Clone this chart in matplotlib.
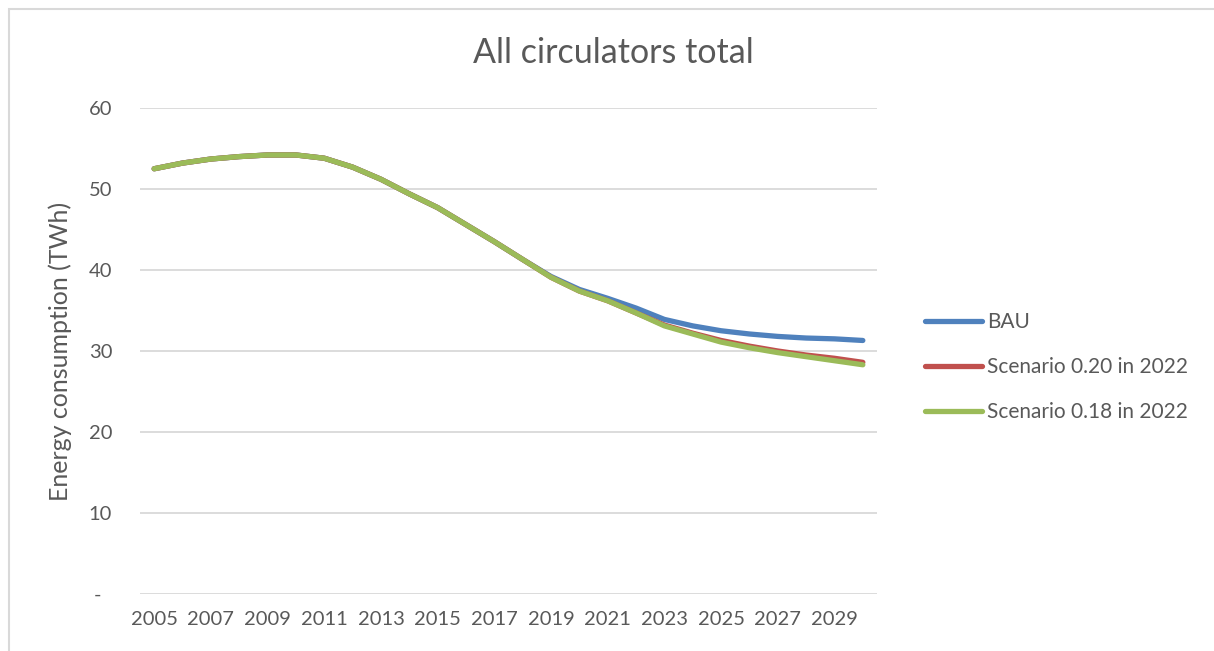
import matplotlib
matplotlib.use("Agg")
import matplotlib.pyplot as plt
from matplotlib.patches import Rectangle
import numpy as np

# data (TWh)
years = list(range(2005, 2031))
bau = [52.5, 53.2, 53.7, 54.0, 54.2, 54.2, 53.8, 52.7, 51.2, 49.4, 47.7, 45.6, 43.5,
       41.3, 39.2, 37.6, 36.5, 35.3, 33.9, 33.1, 32.5, 32.1, 31.8, 31.6, 31.5, 31.3]
scen_020 = [52.5, 53.2, 53.7, 54.0, 54.2, 54.2, 53.8, 52.7, 51.2, 49.4, 47.7, 45.6, 43.5,
            41.3, 39.1, 37.4, 36.2, 34.7, 33.2, 32.2, 31.3, 30.6, 30.0, 29.5, 29.1, 28.6]
scen_018 = [52.5, 53.2, 53.7, 54.0, 54.2, 54.2, 53.8, 52.7, 51.2, 49.4, 47.7, 45.6, 43.5,
            41.3, 39.1, 37.4, 36.2, 34.7, 33.1, 32.1, 31.1, 30.4, 29.8, 29.3, 28.8, 28.3]
series_names = ["BAU", "Scenario 0.20 in 2022", "Scenario 0.18 in 2022"]
series_colors = ["#4f81bd", "#c0504d", "#9bbb59"]

yticks = [0, 10, 20, 30, 40, 50, 60]
ytick_labels = ["-  ", "10", "20", "30", "40", "50", "60"]

plt.rcParams['font.family'] = ['Lato', 'DejaVu Sans']
txt = "#595959"

fig = plt.figure(figsize=(12.14, 6.51), dpi=100)
W, H = 1214, 651
# chart border (cropped at the right and bottom)
fig.patches.append(Rectangle((9 / W, -0.1), 1.2, 1.1 - 9 / H, transform=fig.transFigure,
                             fill=False, edgecolor="#d9d9d9", linewidth=1.5))

ax = fig.add_axes([140 / W, 1 - 594 / H, (877 - 140) / W, (594 - 108) / H])
x = np.arange(len(years))
for vals, name, col in zip([bau, scen_020, scen_018], series_names, series_colors):
    ax.plot(x, vals, color=col, linewidth=3.8, label=name,
            solid_capstyle="round", solid_joinstyle="round")

ax.set_xlim(-0.5, len(years) - 0.5)
ax.set_ylim(0, 60)
ax.set_yticks(yticks)
ax.set_yticklabels(ytick_labels)
ax.set_xticks(x[::2])
ax.set_xticklabels([str(y) for y in years[::2]])
ax.grid(axis="y", color="#d9d9d9", linewidth=1.3)
ax.set_axisbelow(True)
for s in ax.spines.values():
    s.set_visible(False)
ax.tick_params(length=0, labelsize=14.5, colors=txt, pad=12)
ax.tick_params(axis="y", pad=20)

ax.set_ylabel("Energy consumption (TWh)", fontsize=18, color=txt, labelpad=12)
fig.text(613 / W, 1 - 53 / H, "All circulators total", fontsize=24.5, color=txt,
         ha="center", va="center")

leg = ax.legend(loc="center left", bbox_to_anchor=(906 / W, 1 - 367 / H),
                bbox_transform=fig.transFigure, frameon=False, fontsize=15,
                handlelength=2.75, handletextpad=0.25, labelspacing=1.2)
for t in leg.get_texts():
    t.set_color(txt)

fig.savefig("out.png", dpi=100)
